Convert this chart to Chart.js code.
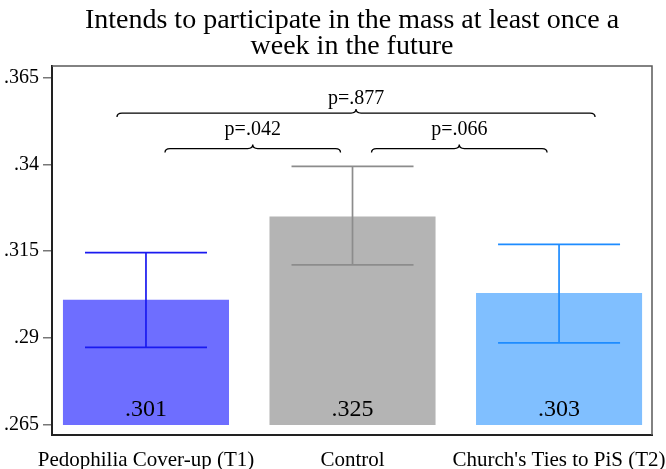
<!DOCTYPE html>
<html>
<head>
<meta charset="utf-8">
<script src="https://cdn.jsdelivr.net/npm/chart.js@4/dist/chart.umd.min.js"></script>
<style>
  html, body { margin: 0; padding: 0; background: #ffffff; }
  #wrap { width: 666px; height: 469px; }
</style>
</head>
<body>
<div id="wrap"><canvas id="c" width="666" height="469"></canvas></div>
<script>
// Treatment groups and their estimated shares
const categories = ['Pedophilia Cover-up (T1)', 'Control', "Church's Ties to PiS (T2)"];
const means = [0.301, 0.325, 0.303];
const ciLow = [0.2873, 0.3111, 0.2886];
const ciHigh = [0.3146, 0.3394, 0.3170];
const valueLabels = ['.301', '.325', '.303'];
const yTicks = [0.265, 0.29, 0.315, 0.34, 0.365];
const baseline = 0.265;

// Pairwise comparisons shown as braces above the bars
const bracketFrom = [0, 1, 0];
const bracketTo = [1, 2, 2];
const bracketText = ['p=.042', 'p=.066', 'p=.877'];
const bracketLevel = [0, 0, 1];

const barColors = ['#6e6eff', '#b4b4b4', '#80bfff'];
const errColors = ['#1a1af0', '#8c8c8c', '#1e8cff'];
const SERIF = "'Liberation Serif', 'Times New Roman', serif";

const errorBarPlugin = {
  id: 'errorBars',
  afterDatasetsDraw(chart) {
    const { ctx, scales: { x, y } } = chart;
    ctx.save();
    ctx.lineWidth = 1.7;
    categories.forEach((_, i) => {
      const cx = x.getPixelForValue(i + 1);
      const yl = y.getPixelForValue(ciLow[i]);
      const yh = y.getPixelForValue(ciHigh[i]);
      const half = 61;
      ctx.strokeStyle = errColors[i];
      ctx.beginPath();
      ctx.moveTo(cx, yh); ctx.lineTo(cx, yl);
      ctx.moveTo(cx - half, yh); ctx.lineTo(cx + half, yh);
      ctx.moveTo(cx - half, yl); ctx.lineTo(cx + half, yl);
      ctx.stroke();
    });
    // value captions near the base of each bar
    ctx.fillStyle = '#000';
    ctx.font = `24px ${SERIF}`;
    ctx.textAlign = 'center';
    ctx.textBaseline = 'middle';
    categories.forEach((_, i) => {
      const cx = x.getPixelForValue(i + 1);
      const yb = y.getPixelForValue(baseline);
      ctx.fillText(valueLabels[i], cx, yb - 15);
    });
    ctx.restore();
  }
};

const bracketPlugin = {
  id: 'brackets',
  afterDraw(chart) {
    const { ctx, chartArea, scales: { x } } = chart;
    // per level: line offset from plot top, text offset, end insets
    const lineOff = [82.5, 47];
    const textOff = [64, 32.5];
    const insets = [[19, -12], [-29, 36]];
    ctx.save();
    ctx.strokeStyle = '#000';
    ctx.fillStyle = '#000';
    ctx.lineWidth = 1.3;
    ctx.font = `20px ${SERIF}`;
    ctx.textAlign = 'center';
    ctx.textBaseline = 'middle';
    bracketText.forEach((txt, k) => {
      const lv = bracketLevel[k];
      const x0 = x.getPixelForValue(bracketFrom[k] + 1) + insets[lv][0];
      const x1 = x.getPixelForValue(bracketTo[k] + 1) + insets[lv][1];
      const xm = (x0 + x1) / 2;
      const yl = chartArea.top + lineOff[lv];
      const d = 4, r = 5;
      ctx.beginPath();
      ctx.moveTo(x0, yl + d);
      ctx.quadraticCurveTo(x0, yl, x0 + r, yl);
      ctx.lineTo(xm - r, yl);
      ctx.quadraticCurveTo(xm, yl, xm, yl - d);
      ctx.quadraticCurveTo(xm, yl, xm + r, yl);
      ctx.lineTo(x1 - r, yl);
      ctx.quadraticCurveTo(x1, yl, x1, yl + d);
      ctx.stroke();
      ctx.fillText(txt, xm, chartArea.top + textOff[lv]);
    });
    ctx.restore();
  }
};

const framePlugin = {
  id: 'frame',
  afterDraw(chart) {
    const { ctx, chartArea: a } = chart;
    ctx.save();
    ctx.strokeStyle = '#5a5a5a';
    ctx.lineWidth = 1.5;
    ctx.beginPath();
    ctx.moveTo(a.left, a.top); ctx.lineTo(a.right, a.top); ctx.lineTo(a.right, a.bottom);
    ctx.stroke();
    ctx.restore();
  }
};

new Chart(document.getElementById('c'), {
  type: 'bar',
  data: {
    datasets: [{
      data: means.map((m, i) => ({ x: i + 1, y: [baseline, m] })),
      backgroundColor: barColors,
      borderWidth: 0,
      categoryPercentage: 1,
      barPercentage: 0.804
    }]
  },
  options: {
    responsive: false,
    animation: false,
    devicePixelRatio: 1,
    layout: { padding: { left: 0, right: 14, top: 0, bottom: 0 } },
    plugins: {
      legend: { display: false },
      tooltip: { enabled: false },
      title: {
        display: true,
        fullSize: false,
        text: ['Intends to participate in the mass at least once a', 'week in the future'],
        color: '#000',
        font: { family: SERIF, size: 28, weight: 'normal', lineHeight: 0.93 },
        padding: { top: 8, bottom: 6 }
      }
    },
    scales: {
      x: {
        type: 'linear',
        offset: false,
        min: 0.545,
        max: 3.45,
        grid: { display: false },
        border: { display: true, color: '#222', width: 2 },
        afterBuildTicks: (s) => { s.ticks = categories.map((_, i) => ({ value: i + 1 })); },
        afterFit: (s) => { s.height = 34; s.paddingLeft = 0; s.paddingRight = 0; },
        ticks: {
          autoSkip: false,
          maxRotation: 0,
          minRotation: 0,
          padding: 5,
          color: '#000',
          font: { family: SERIF, size: 21 },
          callback: (v) => categories[Math.round(v) - 1] || ''
        }
      },
      y: {
        min: 0.2621,
        max: 0.3683,
        grid: { display: true, drawOnChartArea: false, drawTicks: true, tickLength: 9, color: '#777', lineWidth: 1.5 },
        border: { display: true, color: '#222', width: 2 },
        afterBuildTicks: (s) => { s.ticks = yTicks.map(v => ({ value: v })); },
        afterFit: (s) => { s.width = 52; },
        ticks: {
          padding: 4,
          color: '#000',
          font: { family: SERIF, size: 20 },
          callback: (v) => String(v).replace(/^0/, '')
        }
      }
    }
  },
  plugins: [errorBarPlugin, bracketPlugin, framePlugin]
});
</script>
</body>
</html>
